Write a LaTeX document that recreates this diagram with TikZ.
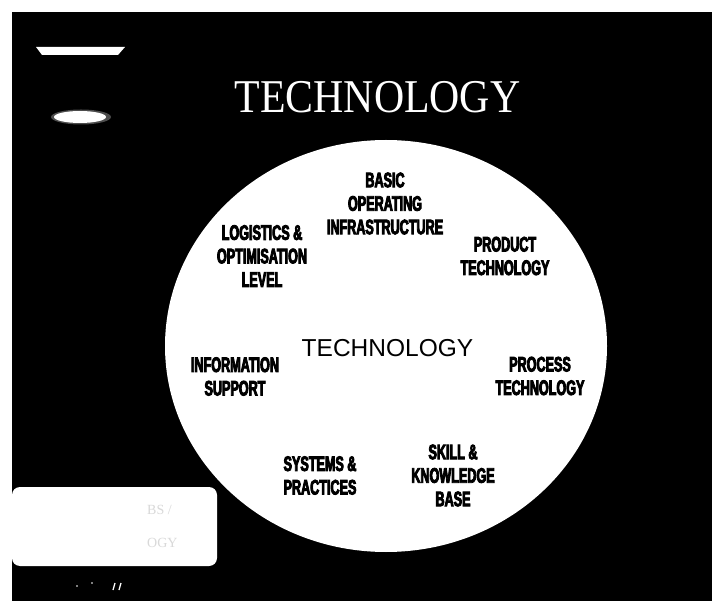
\documentclass[tikz,border=0pt]{standalone}
\usepackage{fontspec}
\setmainfont{Liberation Serif}
\newfontfamily\heavy{Liberation Sans}[FakeStretch=0.6,FakeBold=4]
\newfontfamily\plainsans{Liberation Sans}
\begin{document}
\begin{tikzpicture}[x=1pt,y=-1pt,
  lbl/.style={align=center, inner sep=0pt, text=black,
    font=\heavy\bfseries\fontsize{21}{23.5}\selectfont},
  hubtext/.style={inner sep=0pt, anchor=base, text=black,
    font=\plainsans\fontsize{24.5}{28}\selectfont},
  headline/.style={inner sep=0pt, anchor=base, text=white,
    font=\fontsize{47}{50}\selectfont},
  sticker/.style={inner sep=0pt, anchor=base west, text=black!15,
    font=\fontsize{14}{16}\selectfont}]
\useasboundingbox (0,0) rectangle (712,601);
% paper margin and dark panel
\fill[white] (0,0) rectangle (712,601);
\fill[black] (12,12) rectangle (712,601);

% light marks at the upper left
\fill[white] (36,47) -- (125,47) -- (118,55) -- (42,55) -- cycle;
\fill[black!70] (81,117) ellipse [x radius=30pt, y radius=7.5pt];
\fill[white] (80,117) ellipse [x radius=26pt, y radius=6pt];

% heading
\node[headline] (title) at (377.5,113) {\scalebox{0.89}[1]{TECHNOLOGY}};

% central disc
\fill[white] (386,346) ellipse [x radius=221pt, y radius=206pt];

% hub text
\node[hubtext] (hub) at (387.5,356) {TECHNOLOGY};

% surrounding labels
\node[lbl] (basic) at (385,203.5) {BASIC\\OPERATING\\INFRASTRUCTURE};
\node[lbl] (logistics) at (262,256) {LOGISTICS \&\\OPTIMISATION\\LEVEL};
\node[lbl] (product) at (505,256) {PRODUCT\\TECHNOLOGY};
\node[lbl] (information) at (235,376.5) {INFORMATION\\SUPPORT};
\node[lbl] (process) at (540,376) {PROCESS\\TECHNOLOGY};
\node[lbl] (systems) at (320,475.5) {SYSTEMS \&\\PRACTICES};
\node[lbl] (skill) at (453,475.5) {SKILL \&\\KNOWLEDGE\\BASE};

% faded shelf sticker
\fill[white, rounded corners=8pt] (12,487) rectangle (217,566);
\node[sticker] (stkA) at (147,514) {BS /};
\node[sticker] (stkB) at (147,547) {OGY};

% small scratches below the sticker
\fill[white] (77,586) circle (0.9pt);
\fill[white] (92,583) circle (0.9pt);
\draw[white, line width=1.3pt] (113,590) -- (115,583);
\draw[white, line width=1.3pt] (119,590) -- (121,583);
\end{tikzpicture}
\end{document}
